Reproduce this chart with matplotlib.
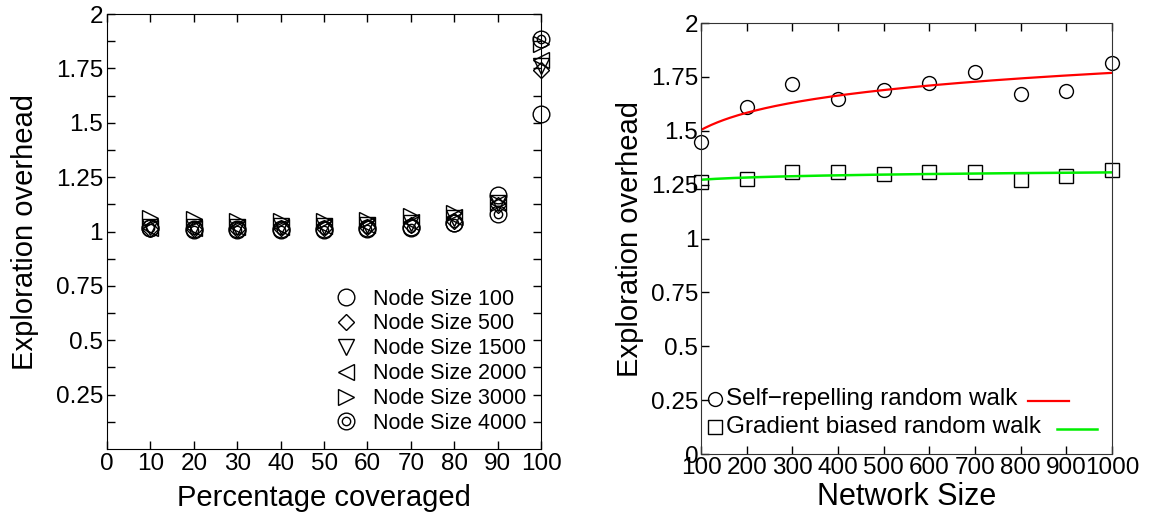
import numpy as np
import matplotlib.pyplot as plt
from matplotlib.legend_handler import HandlerTuple

plt.rcParams['font.family'] = ['Liberation Sans', 'DejaVu Sans']

# coverage sweep, one series per node count
coverage = [10, 20, 30, 40, 50, 60, 70, 80, 90, 100]
ov_100 = [1.015, 1.010, 1.010, 1.012, 1.010, 1.015, 1.020, 1.040, 1.168, 1.540]
ov_500 = [1.010, 1.010, 1.012, 1.015, 1.015, 1.020, 1.030, 1.050, 1.120, 1.743]
ov_1500 = [1.020, 1.020, 1.020, 1.025, 1.025, 1.030, 1.040, 1.060, 1.130, 1.760]
ov_2000 = [1.015, 1.015, 1.020, 1.020, 1.025, 1.030, 1.045, 1.065, 1.130, 1.788]
ov_3000 = [1.060, 1.057, 1.050, 1.050, 1.048, 1.055, 1.070, 1.087, 1.130, 1.860]
ov_4000 = [1.015, 1.007, 1.007, 1.007, 1.007, 1.013, 1.017, 1.038, 1.080, 1.884]

# network size sweep
net_size = [100, 200, 300, 400, 500, 600, 700, 800, 900, 1000]
srrw = [1.446, 1.610, 1.719, 1.648, 1.690, 1.720, 1.772, 1.670, 1.685, 1.816]
gbrw = [1.261, 1.275, 1.310, 1.310, 1.298, 1.309, 1.309, 1.272, 1.292, 1.316]

fig = plt.figure(figsize=(11.75, 5.2), dpi=100)
ax1 = fig.add_axes([0.0911, 0.1365, 0.3694, 0.8365])
ax2 = fig.add_axes([0.5966, 0.1269, 0.3498, 0.8288])

# ---- left: overhead vs coverage ----
mk = dict(linestyle='none', markerfacecolor='none', markeredgecolor='black',
          markeredgewidth=1.0, clip_on=False)
h1, = ax1.plot(coverage, ov_100, marker='o', markersize=12, **mk)
h2, = ax1.plot(coverage, ov_500, marker='D', markersize=8, **mk)
h3, = ax1.plot(coverage, ov_1500, marker='v', markersize=11, **mk)
h4, = ax1.plot(coverage, ov_2000, marker='<', markersize=11, **mk)
h5, = ax1.plot(coverage, ov_3000, marker='>', markersize=11, **mk)
h6a, = ax1.plot(coverage, ov_4000, marker='o', markersize=12, **mk)
h6b, = ax1.plot(coverage, ov_4000, marker='o', markersize=6, **mk)

ax1.set_xlim(0, 100)
ax1.set_ylim(0, 2)
ax1.set_xticks(np.arange(0, 101, 10))
ax1.set_yticks(np.arange(0.25, 2.01, 0.25))
ax1.set_yticks(np.arange(0.125, 2.0, 0.25), minor=True)
ax1.set_yticklabels(['%g' % v for v in np.arange(0.25, 2.01, 0.25)])
ax1.tick_params(which='both', direction='in', length=6, width=1,
                top=True, right=True, labelsize=17.5, pad=3)
ax1.set_xlabel('Percentage coveraged', fontsize=21, labelpad=6)
ax1.set_ylabel('Exploration overhead', fontsize=21, labelpad=12)

ax1.legend([h1, h2, h3, h4, h5, (h6a, h6b)],
           ['Node Size 100', 'Node Size 500', 'Node Size 1500',
            'Node Size 2000', 'Node Size 3000', 'Node Size 4000'],
           handler_map={tuple: HandlerTuple(ndivide=1)},
           loc='lower right', bbox_to_anchor=(1.0, 0.0), frameon=False,
           fontsize=15.5, handlelength=1.0, handletextpad=0.75,
           labelspacing=0.18, borderpad=0.2)

# ---- right: overhead vs network size ----
ax2.plot(net_size, srrw, marker='o', markersize=10, **mk)
ax2.plot(net_size, gbrw, marker='s', markersize=10, **mk)

# logarithmic fits through each series
xs = np.linspace(net_size[0], net_size[-1], 200)
c1 = np.polyfit(np.log(net_size), srrw, 1)
c2 = np.polyfit(np.log(net_size), gbrw, 1)
ax2.plot(xs, np.polyval(c1, np.log(xs)), color='#ff0000', lw=1.6)
ax2.plot(xs, np.polyval(c2, np.log(xs)), color='#00ee00', lw=1.8)

ax2.set_xlim(100, 1000)
ax2.set_ylim(0, 2)
ax2.set_xticks(np.arange(100, 1001, 100))
ax2.set_yticks(np.arange(0, 2.01, 0.25))
ax2.set_yticklabels(['%g' % v for v in np.arange(0, 2.01, 0.25)])
ax2.tick_params(direction='in', length=6, width=1, top=True, right=False,
                labelsize=17.5, pad=2)
for s in ax2.spines.values():
    s.set_color('#333333')
ax2.set_xlabel('Network Size', fontsize=22, labelpad=2)
ax2.set_ylabel('Exploration overhead', fontsize=21, labelpad=5)

# key: marker, then label, then line sample
tr = ax2.transAxes
ax2.plot([0.035], [0.128], marker='o', markersize=10, transform=tr, **mk)
ax2.plot([0.035], [0.062], marker='s', markersize=10, transform=tr, **mk)
ax2.text(0.062, 0.128, 'Self\u2212repelling random walk', transform=tr,
         fontsize=17.5, va='center', ha='left')
ax2.text(0.062, 0.062, 'Gradient biased random walk', transform=tr,
         fontsize=17.5, va='center', ha='left')
ax2.plot([0.795, 0.895], [0.124, 0.124], color='#ff0000', lw=1.6, transform=tr)
ax2.plot([0.866, 0.964], [0.058, 0.058], color='#00ee00', lw=1.8, transform=tr)

fig.savefig('out.png', dpi=100)
